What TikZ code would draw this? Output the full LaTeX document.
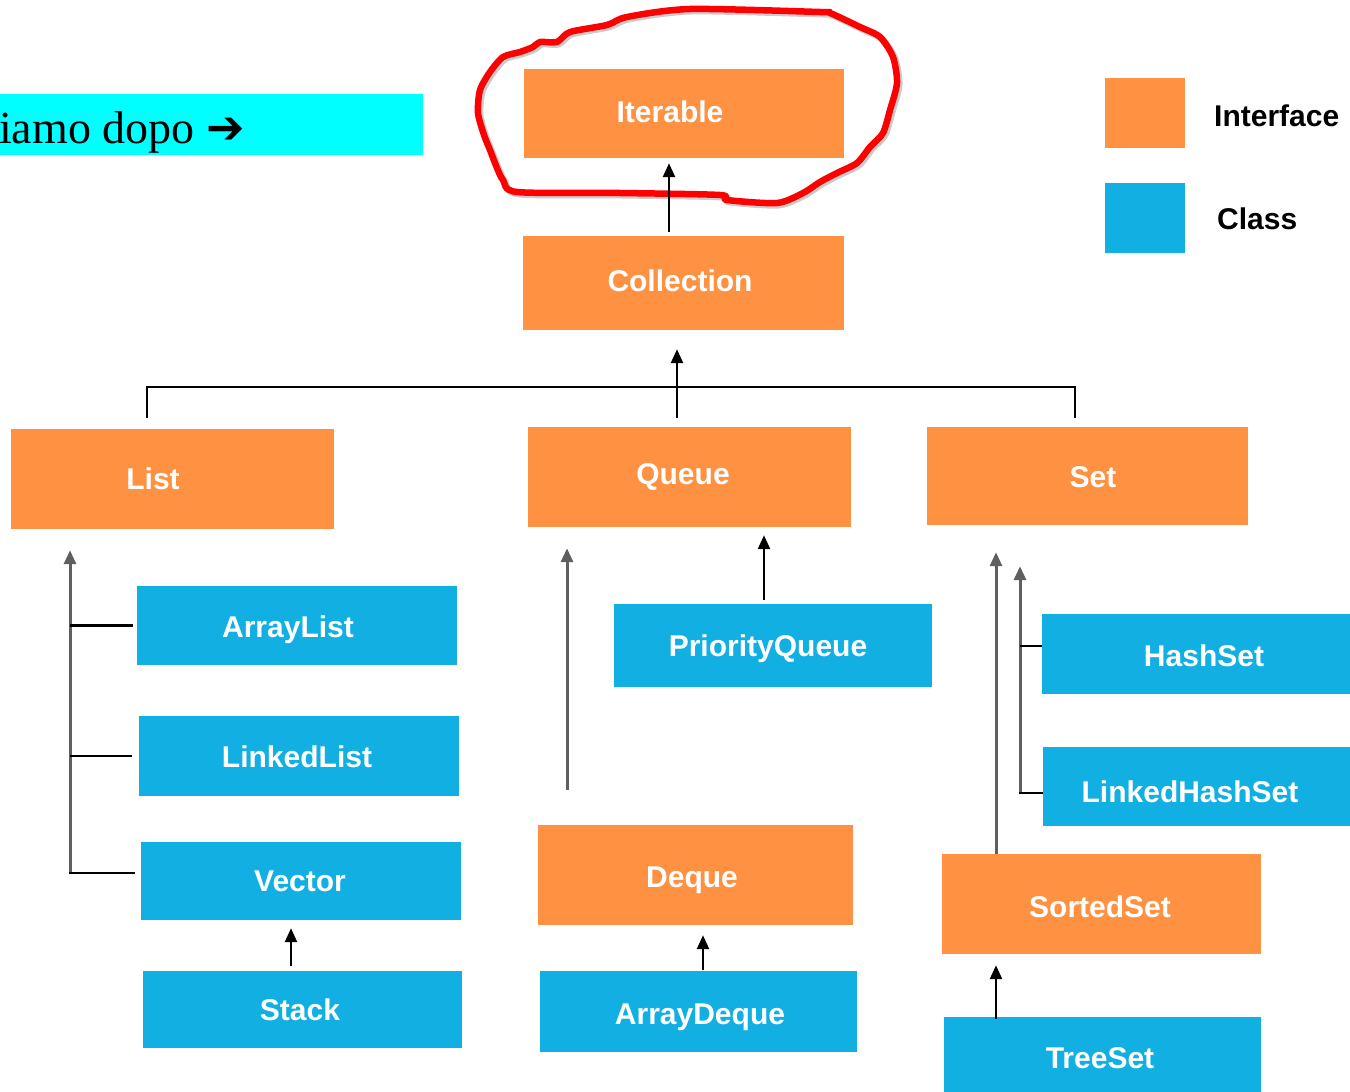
\documentclass[tikz,border=0pt]{standalone}
\usepackage{fontspec}
\setmainfont{Liberation Sans}
\newfontfamily\serifA{Liberation Serif}
\newfontfamily\dejavu{DejaVu Sans}
\usetikzlibrary{arrows.meta}
\definecolor{ora}{RGB}{255,145,66}
\definecolor{blu}{RGB}{18,175,227}
\definecolor{lgray}{RGB}{95,95,95}
\definecolor{cyanbg}{RGB}{0,255,255}
\tikzset{
  sz/.style 2 args={minimum width=#1pt, minimum height=#2pt},
  boxbase/.style={inner sep=0pt, draw=none, anchor=center},
  iface/.style={boxbase, fill=ora},
  cls/.style={boxbase, fill=blu},
  lbl/.style={anchor=base, text=white, inner sep=0pt, font=\fontsize{30}{36}\selectfont\bfseries},
  leg/.style={anchor=base west, text=black, inner sep=0pt, font=\fontsize{30}{36}\selectfont\bfseries},
  inh/.style={-{Triangle[length=14pt,width=12pt]}, line width=2.5pt, black},
  inhg/.style={-{Triangle[length=14pt,width=12pt]}, line width=3pt, lgray},
  tick/.style={line width=2.2pt, black},
}
\begin{document}
\begin{tikzpicture}[x=1pt,y=-1pt]
\useasboundingbox (0,0) rectangle (1350,1092);
\fill[white] (0,0) rectangle (1350,1092);

% note box
\node[boxbase, fill=cyanbg, sz={423}{61}] (note) at (211.5,124.5) {};
\node[anchor=base west, inner sep=0pt, font=\serifA\fontsize{46}{50}\selectfont] (notet) at (-1,143) {iamo dopo {\dejavu\bfseries ➔}};

% interfaces
\node[iface, sz={320}{89}] (iter) at (684,113.5) {};
\node[lbl] (itert) at (670,122) {Iterable};
\node[iface, sz={321}{94}] (coll) at (683.5,283) {};
\node[lbl] (collt) at (680,291) {Collection};
\node[iface, sz={323}{100}] (list) at (172.5,479) {};
\node[lbl] (listt) at (153,489) {List};
\node[iface, sz={323}{100}] (queue) at (689.5,477) {};
\node[lbl] (queuet) at (683,484) {Queue};
\node[iface, sz={321}{98}] (set) at (1087.5,476) {};
\node[lbl] (sett) at (1093,487) {Set};
\node[iface, sz={315}{100}] (deque) at (695.5,875) {};
\node[lbl] (dequet) at (692,887) {Deque};
\node[iface, sz={319}{100}] (sorted) at (1101.5,904) {};
\node[lbl] (sortedt) at (1100,917) {SortedSet};

% classes
\node[cls, sz={320}{79}] (alist) at (297,625.5) {};
\node[lbl] (alistt) at (288,637) {ArrayList};
\node[cls, sz={320}{80}] (llist) at (299,756) {};
\node[lbl] (llistt) at (297,767) {LinkedList};
\node[cls, sz={320}{78}] (vector) at (301,881) {};
\node[lbl] (vectort) at (300,891) {Vector};
\node[cls, sz={319}{77}] (stack) at (302.5,1009.5) {};
\node[lbl] (stackt) at (300,1020) {Stack};
\node[cls, sz={318}{83}] (pq) at (773,645.5) {};
\node[lbl] (pqt) at (768,656) {PriorityQueue};
\node[cls, sz={317}{81}] (adeque) at (698.5,1011.5) {};
\node[lbl] (adequet) at (700,1024) {ArrayDeque};
\node[cls, sz={310}{80}] (hset) at (1197,654) {};
\node[lbl] (hsett) at (1204,666) {HashSet};
\node[cls, sz={309}{79}] (lhset) at (1197.5,786.5) {};
\node[lbl] (lhsett) at (1190,802) {LinkedHashSet};
\node[cls, sz={317}{80}] (tset) at (1102.5,1057) {};
\node[lbl] (tsett) at (1100,1068) {TreeSet};

% legend
\node[iface, sz={80}{70}] (legi) at (1145,113) {};
\node[leg] (legit) at (1214,126) {Interface};
\node[cls, sz={80}{70}] (legc) at (1145,218) {};
\node[leg] (legct) at (1217,229) {Class};

% red hand-drawn loop
\draw[black!20, line width=7pt, line join=round, shift={(2,2)}] plot[smooth cycle, tension=0.45] coordinates {
(490,72) (480,90) (478,113) (484,135) (490,150) (497,168) (503,180) (517,192) (620,193) (720,195) (727,200) (777,203) (803,193) (820,182) (837,173) (857,163) (870,147) (883,133) (890,110) (897,83) (893,57) (880,37) (860,27) (830,13) (820,12) (690,9) (627,17) (607,25) (570,32) (557,42) (540,42) (533,47) (520,52) (503,57)};
\draw[red, line width=6.5pt, line join=round] plot[smooth cycle, tension=0.45] coordinates {
(490,72) (480,90) (478,113) (484,135) (490,150) (497,168) (503,180) (517,192) (620,193) (720,195) (727,200) (777,203) (803,193) (820,182) (837,173) (857,163) (870,147) (883,133) (890,110) (897,83) (893,57) (880,37) (860,27) (830,13) (820,12) (690,9) (627,17) (607,25) (570,32) (557,42) (540,42) (533,47) (520,52) (503,57)};

% coordinates for connector columns
\coordinate (c1) at (669,0);
\coordinate (cb) at (677,387);
\coordinate (bl) at (147,387);
\coordinate (br) at (1075,387);
\coordinate (lx) at (70,0);
\coordinate (qx) at (567,0);
\coordinate (px) at (764,0);
\coordinate (sx) at (291,0);
\coordinate (dx) at (703,0);
\coordinate (s1) at (996,0);
\coordinate (s2) at (1020,0);

% Collection -> Iterable
\draw[inh] ([yshift=4pt]coll.north -| c1) -- ([yshift=-5pt]iter.south -| c1);
% List, Queue, Set -> Collection
\draw[tick] ([yshift=11pt]list.north -| bl) -- (bl) -- (br) -- ([yshift=9pt]set.north -| br);
\draw[inh] ([yshift=9pt]queue.north -| cb) -- ([yshift=-19pt]coll.south -| cb);

% List branch
\coordinate (lbot) at ([yshift=8pt]vector.west -| lx);
\draw[inhg] (lbot) -- ([yshift=-21pt]list.south -| lx);
\draw[tick] (alist.west -| lx) -- ([xshift=-4pt]alist.west);
\draw[tick] (llist.west -| lx) -- ([xshift=-7pt]llist.west);
\draw[tick] ([xshift=-1pt]lbot) -- ([xshift=-6pt, yshift=8pt]vector.west);
\draw[inh] ([yshift=5pt]stack.north -| sx) -- ([yshift=-8pt]vector.south -| sx);

% Queue branch
\draw[inhg] ([yshift=35pt]deque.north -| qx) -- ([yshift=-21pt]queue.south -| qx);
\draw[inh] ([yshift=4pt]pq.north -| px) -- ([yshift=-8pt]queue.south -| px);
\draw[inh] ([yshift=1pt]adeque.north -| dx) -- ([yshift=-10pt]deque.south -| dx);

% Set branch
\draw[inhg] (sorted.north -| s1) -- ([yshift=-27pt]set.south -| s1);
\coordinate (s2bot) at ([yshift=-6.5pt]lhset.west -| s2);
\draw[inhg] (s2bot) -- ([yshift=-41pt]set.south -| s2);
\draw[tick] ([yshift=8pt]hset.west -| s2) -- ([yshift=8pt]hset.west);
\draw[tick] ([xshift=-1pt]s2bot) -- ([yshift=-6.5pt]lhset.west);
\draw[inh] ([yshift=-2pt]tset.north -| s1) -- ([yshift=-11pt]sorted.south -| s1);
\end{tikzpicture}
\end{document}
